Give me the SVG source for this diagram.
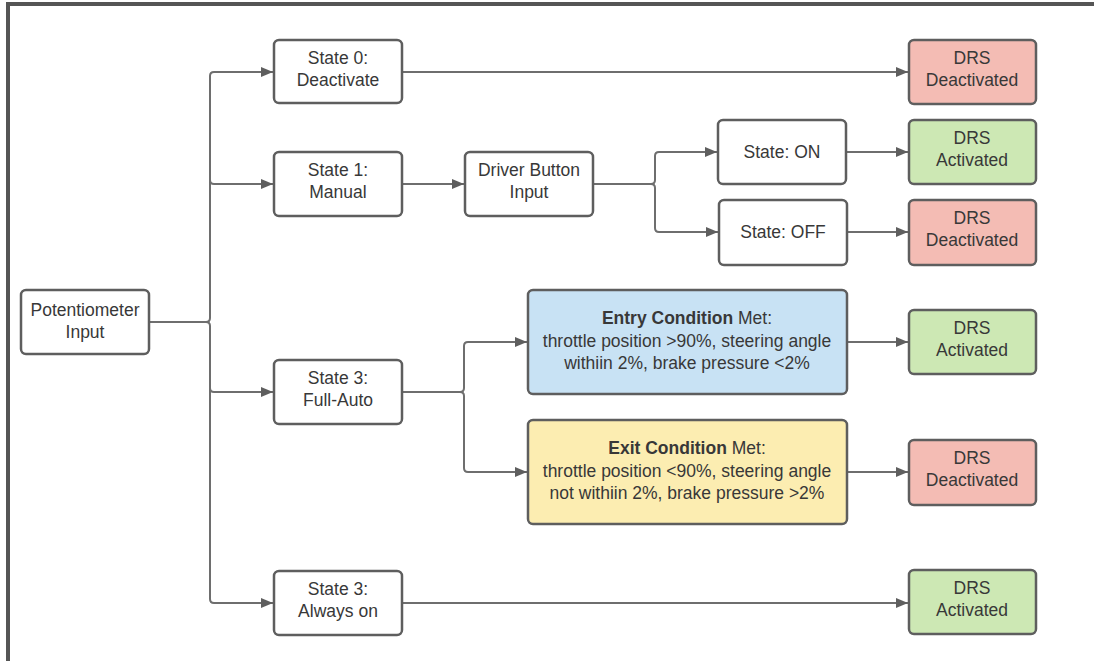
<svg xmlns="http://www.w3.org/2000/svg" width="1094" height="661" viewBox="0 0 1094 661">
<defs>
<marker id="ah" markerWidth="12" markerHeight="10" refX="12" refY="5" orient="auto" markerUnits="userSpaceOnUse">
<path d="M0,0 L12,5 L0,10 Z" fill="#5e5e5e"/>
</marker>
<style>
.n{fill:#ffffff;stroke:#5e5e5e;stroke-width:2.5}
.red{fill:#f4bcb4}
.green{fill:#cde8b4}
.blue{fill:#c8e2f4}
.yellow{fill:#fcedb1}
.t{font-family:"Liberation Sans",Arial,sans-serif;font-size:17.5px;fill:#383838;text-anchor:middle}
.b{font-weight:bold}
.c{fill:none;stroke:#6e6e6e;stroke-width:2}
</style>
</defs>
<rect width="1094" height="661" fill="#ffffff"/>
<g id="frame">
<path d="M8,661 L8,4 L1094,4" fill="none" stroke="#555555" stroke-width="4"/>
</g>
<g id="connectors">
<path class="c" d="M149,322 L206,322 Q210,322 210,318 L210,76 Q210,72 214,72 L273,72" marker-end="url(#ah)"/>
<path class="c" d="M210,180 Q210,184 214,184 L273,184" marker-end="url(#ah)"/>
<path class="c" d="M206,322 Q210,322 210,326 L210,599 Q210,603 214,603 L273,603" marker-end="url(#ah)"/>
<path class="c" d="M210,388 Q210,392 214,392 L273,392" marker-end="url(#ah)"/>
<path class="c" d="M402,72 L908,72" marker-end="url(#ah)"/>
<path class="c" d="M402,184 L464,184" marker-end="url(#ah)"/>
<path class="c" d="M593,184 L651,184 Q655,184 655,180 L655,156 Q655,152 659,152 L717,152" marker-end="url(#ah)"/>
<path class="c" d="M651,184 Q655,184 655,188 L655,228 Q655,232 659,232 L718,232" marker-end="url(#ah)"/>
<path class="c" d="M846,152 L908,152" marker-end="url(#ah)"/>
<path class="c" d="M847,232 L908,232" marker-end="url(#ah)"/>
<path class="c" d="M402,392 L460,392 Q464,392 464,388 L464,346 Q464,342 468,342 L527,342" marker-end="url(#ah)"/>
<path class="c" d="M460,392 Q464,392 464,396 L464,468 Q464,472 468,472 L527,472" marker-end="url(#ah)"/>
<path class="c" d="M847,342 L908,342" marker-end="url(#ah)"/>
<path class="c" d="M847,472 L908,472" marker-end="url(#ah)"/>
<path class="c" d="M402,603 L908,603" marker-end="url(#ah)"/>
</g>
<g id="pot"><rect class="n" x="21" y="290" width="128" height="64" rx="5"/><text class="t" x="85" y="316">Potentiometer</text><text class="t" x="85" y="338">Input</text></g>
<g id="state0"><rect class="n" x="274" y="40" width="128" height="63" rx="5"/><text class="t" x="338" y="64">State 0:</text><text class="t" x="338" y="86">Deactivate</text></g>
<g id="state1"><rect class="n" x="274" y="152" width="128" height="64" rx="5"/><text class="t" x="338" y="176">State 1:</text><text class="t" x="338" y="198">Manual</text></g>
<g id="driver"><rect class="n" x="465" y="152" width="128" height="64" rx="5"/><text class="t" x="529" y="176">Driver Button</text><text class="t" x="529" y="198">Input</text></g>
<g id="on"><rect class="n" x="718" y="120" width="128" height="64" rx="5"/><text class="t" x="782" y="158">State: ON</text></g>
<g id="off"><rect class="n" x="719" y="200" width="128" height="65" rx="5"/><text class="t" x="783" y="238">State: OFF</text></g>
<g id="drs0"><rect class="n red" x="909" y="40" width="127" height="64" rx="5"/><text class="t" x="972" y="64">DRS</text><text class="t" x="972" y="86">Deactivated</text></g>
<g id="drson"><rect class="n green" x="909" y="120" width="127" height="64" rx="5"/><text class="t" x="972" y="144">DRS</text><text class="t" x="972" y="166">Activated</text></g>
<g id="drsoff"><rect class="n red" x="909" y="200" width="127" height="65" rx="5"/><text class="t" x="972" y="224">DRS</text><text class="t" x="972" y="246">Deactivated</text></g>
<g id="fullauto"><rect class="n" x="274" y="360" width="128" height="64" rx="5"/><text class="t" x="338" y="384">State 3:</text><text class="t" x="338" y="406">Full-Auto</text></g>
<g id="entry"><rect class="n blue" x="528" y="290" width="319" height="104" rx="5"/><text class="t" x="687" y="324"><tspan class="b">Entry Condition</tspan> Met:</text><text class="t" x="687" y="347">throttle position &gt;90%, steering angle</text><text class="t" x="687" y="369">withiin 2%, brake pressure &lt;2%</text></g>
<g id="exit"><rect class="n yellow" x="528" y="420" width="319" height="104" rx="5"/><text class="t" x="687" y="454"><tspan class="b">Exit Condition</tspan> Met:</text><text class="t" x="687" y="477">throttle position &lt;90%, steering angle</text><text class="t" x="687" y="499">not withiin 2%, brake pressure &gt;2%</text></g>
<g id="drsentry"><rect class="n green" x="909" y="310" width="127" height="64" rx="5"/><text class="t" x="972" y="334">DRS</text><text class="t" x="972" y="356">Activated</text></g>
<g id="drsexit"><rect class="n red" x="909" y="440" width="127" height="65" rx="5"/><text class="t" x="972" y="464">DRS</text><text class="t" x="972" y="486">Deactivated</text></g>
<g id="always"><rect class="n" x="274" y="571" width="128" height="64" rx="5"/><text class="t" x="338" y="595">State 3:</text><text class="t" x="338" y="617">Always on</text></g>
<g id="drsalways"><rect class="n green" x="909" y="570" width="127" height="64" rx="5"/><text class="t" x="972" y="594">DRS</text><text class="t" x="972" y="616">Activated</text></g>
</svg>
